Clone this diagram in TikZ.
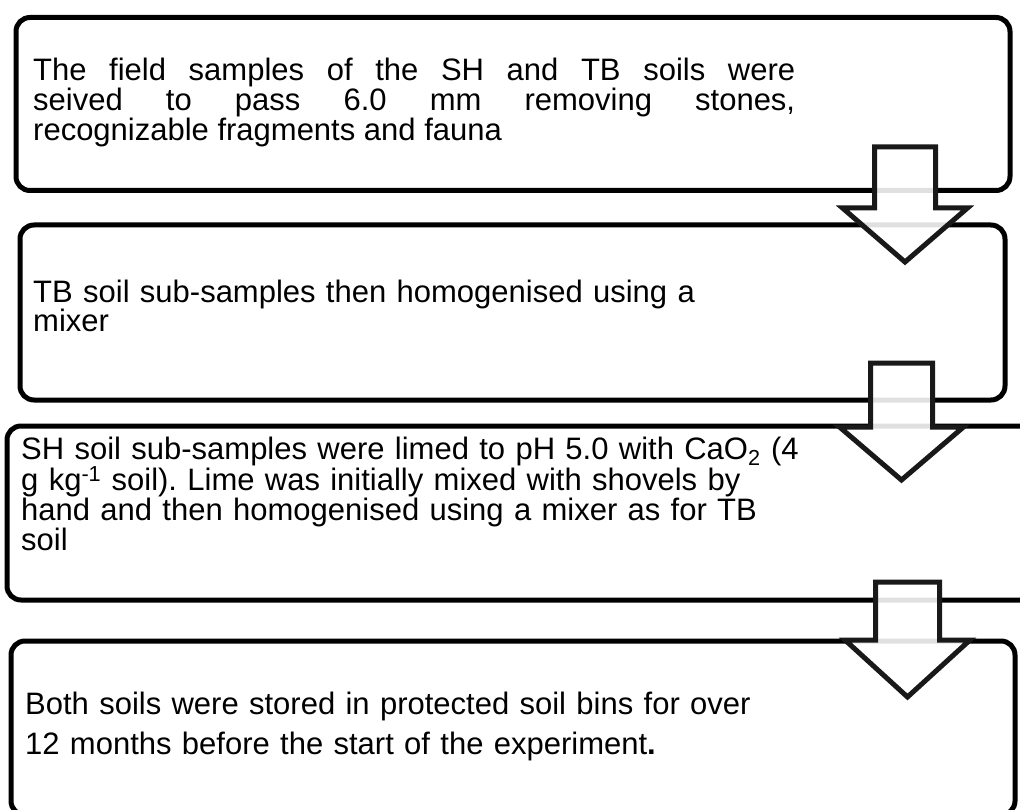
\documentclass[tikz,border=0pt]{standalone}
\usepackage{fontspec}
\setmainfont{Liberation Sans}
\frenchspacing
\begin{document}
\begin{tikzpicture}[x=1pt,y=-1pt,
  stepbox/.style={draw=black, line width=5pt, rounded corners=14pt, fill=none, inner sep=0pt},
  txt/.style={inner sep=0pt, anchor=base west, align=left},
  blockarrow/.style={draw=black!90, fill=white, fill opacity=0.88, line width=5pt, line join=miter}]
\path[use as bounding box] (0,0) rectangle (1020,810);
\clip (0,0) rectangle (1020,810);
% boxes
\node[stepbox, minimum width=994pt, minimum height=173pt] (b1) at (513,104) {};
\node[stepbox, minimum width=985pt, minimum height=175pt] (b2) at (512.5,312.5) {};
\node[stepbox, minimum width=1043pt, minimum height=174pt] (b3) at (528.5,513) {};
\node[stepbox, minimum width=1004pt, minimum height=174pt] (b4) at (513,728) {};
% texts
\node[txt, text width=762pt, align=justify, font=\fontsize{31}{24.5}\selectfont] (t1) at (33,81)
  {The field samples of the SH and TB soils were\linebreak seived to pass 6.0 mm removing stones,\linebreak recognizable fragments and fauna};
\node[txt, text width=900pt, font=\fontsize{31}{27}\selectfont] (t2) at (33,302)
  {TB soil sub-samples then homogenised using a\\ mixer};
\node[txt, text width=950pt, font=\fontsize{31}{25.5}\selectfont] (t3) at (21,459)
  {SH soil sub-samples were limed to pH 5.0 with CaO\textsubscript{2} (4\\ g kg\textsuperscript{-1} soil). Lime was initially mixed with shovels by\\ hand and then homogenised using a mixer as for TB\\ soil};
\node[txt, text width=950pt, font=\fontsize{31}{40}\selectfont] (t4) at (25,714)
  {Both soils were stored in protected soil bins for over\\ 12 months before the start of the experiment\textbf{.}};
% block arrows
\draw[blockarrow] (874.5,147) -- (935.5,147) -- (935.5,208) -- (967.5,208) -- (905,262) -- (842.5,208) -- (874.5,208) -- cycle;
\draw[blockarrow] (870.5,363) -- (932.5,363) -- (932.5,427) -- (963.5,427) -- (901.5,480) -- (839.5,427) -- (870.5,427) -- cycle;
\draw[blockarrow] (875.5,582) -- (939.5,582) -- (939.5,640) -- (970,640) -- (907.5,697) -- (845,640) -- (875.5,640) -- cycle;
\end{tikzpicture}
\end{document}
